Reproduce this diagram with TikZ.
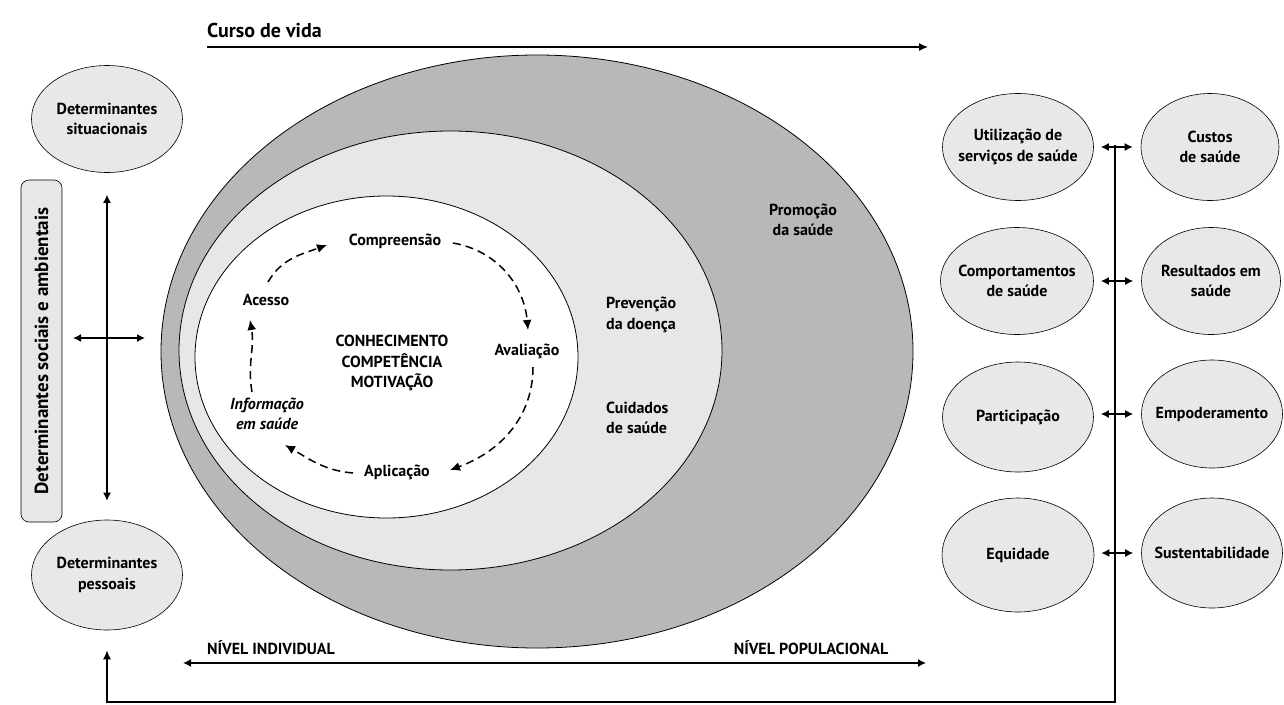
\documentclass[tikz,border=0pt]{standalone}
\usepackage{fontspec}
\setmainfont{PT Sans}
\usetikzlibrary{arrows.meta,positioning,shapes.geometric,calc}
\definecolor{ringdark}{RGB}{184,184,184}
\definecolor{ringlight}{RGB}{231,231,231}
\definecolor{bubblegray}{RGB}{232,232,232}

\begin{document}
\begin{tikzpicture}[
      x=1pt,y=-1pt,
      txt/.style={font=\bfseries\fontsize{16}{20.5}\selectfont, align=center, inner sep=1pt},
      bubble/.style={txt, draw, ellipse, fill=bubblegray, line width=0.6pt, minimum width=151, minimum height=107, inner xsep=-9pt, inner ysep=0pt},
      ring/.style={draw, line width=0.8pt},
      arr/.style={line width=1.4pt, -{Latex[length=9pt,width=8pt]}},
      twoway/.style={line width=1.4pt, {Latex[length=8pt,width=8pt]}-{Latex[length=8pt,width=8pt]}},
      cyc/.style={line width=1.5pt, dash pattern=on 8pt off 5pt, -{Latex[length=10pt,width=9pt]}}
    ]
      \useasboundingbox (0,0) rectangle (1284,704);
      % nested areas
      \draw[ring, fill=ringdark] (537,351.5) ellipse [x radius=376, y radius=296.5];
      \draw[ring, fill=ringlight] (450.5,350.5) ellipse [x radius=271.5, y radius=219.5];
      \draw[ring, fill=white] (386.5,357) ellipse [x radius=191.5, y radius=161];
      % cycle
      \node[txt] (compr) at (395,241) {Compreensão};
      \node[txt] (acesso) at (266,300) {Acesso};
      \node[txt] (aval) at (527,351) {Avaliação};
      \node[txt] (aplic) at (397,472) {Aplicação};
      \node[txt, font=\bfseries\itshape\fontsize{16}{20.5}\selectfont] (info) at (267,414) {Informação\\em saúde};
      \node[txt] (core) at (392,363) {CONHECIMENTO\\COMPETÊNCIA\\MOTIVAÇÃO};
      \draw[cyc] ($(acesso)+(2,-18)$) to[out=60,in=200] ($(compr)+(-68,4)$);
      \draw[cyc] ($(compr)+(58,2)$) to[out=-10,in=95] ($(aval)+(1,-21)$);
      \draw[cyc] ($(aval)+(6,16)$) to[out=-90,in=20] ($(aplic)+(53,-2)$);
      \draw[cyc] ($(aplic)+(-44,1)$) to[out=175,in=-30] ($(info)+(18,31)$);
      \draw[cyc] ($(info)+(-15,-22)$) to[out=100,in=-80] ($(acesso)+(-16,20)$);
      % levels
      \node[txt, anchor=west, align=left] (prev) at (605,315) {Prevenção\\da doença};
      \node[txt, anchor=west, align=left] (cuid) at (605,418) {Cuidados\\de saúde};
      \node[txt] (promo) at (803,220) {Promoção\\da saúde};
      % life course
      \node[txt, font=\bfseries\fontsize{20}{24}\selectfont, anchor=south west, inner sep=0pt] (curso) at (207,38) {Curso de vida};
      \coordinate (cursoend) at (928,47);
      \draw[arr] (curso.south west |- cursoend) -- (cursoend);
      \coordinate (nivL) at (183,663);
      \coordinate (nivR) at (926,663);
      \draw[twoway] (nivL) -- (nivR);
      \node[txt] (indiv) at (271,648) {NÍVEL INDIVIDUAL};
      \node[txt] (popul) at (811,648) {NÍVEL POPULACIONAL};
      % determinants
      \node[bubble] (sit) at (107,119) {Determinantes\\situacionais};
      \node[bubble, minimum height=110] (pess) at (107,575) {Determinantes\\pessoais};
      \node[txt, draw, fill=ringlight, font=\bfseries\fontsize{19}{22}\selectfont, rounded corners=8, rotate=90, minimum width=342, minimum height=41, line width=0.6pt] (social) at (41.5,351) {Determinantes sociais e ambientais};
      \draw[twoway, shorten <=22pt, shorten >=19pt] (sit) -- (pess);
      \coordinate (crossL) at (73,338);
      \coordinate (crossR) at (145,338);
      \draw[twoway] (crossL) -- (crossR);
      % outcomes
      \node[bubble] (uso) at (1018,147) {Utilização de\\serviços de saúde};
      \node[bubble, minimum width=138] (custo) at (1210,147) {Custos\\de saúde};
      \node[bubble, minimum width=153] (comp) at (1017,281) {Comportamentos\\de saúde};
      \node[bubble, minimum width=139] (result) at (1211,281) {Resultados em\\saúde};
      \node[bubble, minimum width=151, minimum height=110] (partic) at (1018,417) {Participação};
      \node[bubble, minimum width=141, minimum height=108] (empod) at (1212,414) {Empoderamento};
      \node[bubble, minimum width=152, minimum height=114] (equid) at (1018,555) {Equidade};
      \node[bubble, minimum width=141, minimum height=110] (sust) at (1212,553) {Sustentabilidade};
      \draw[twoway, shorten <=7pt, shorten >=8pt] (uso) -- (custo);
      \draw[twoway, shorten <=7pt, shorten >=8pt] (comp) -- (result);
      \draw[twoway, shorten <=7pt, shorten >=8pt] (partic.east |- empod.west) -- (empod);
      \draw[twoway, shorten <=7pt, shorten >=8pt] (equid.east |- sust.west) -- (sust);
      % feedback loop
      \coordinate (loopTop) at (1115,145);
      \coordinate (loopR) at (1115,702);
      \coordinate (loopL) at (107,702);
      \draw[arr, shorten >=20pt] (loopTop) -- (loopR) -- (loopL) -- (pess.south);
    \end{tikzpicture}
\end{document}
